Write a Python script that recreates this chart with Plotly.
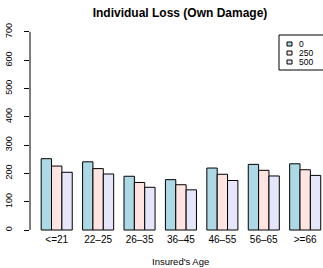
import plotly.graph_objects as go

ages = ["<=21", "22–25", "26–35", "36–45", "46–55", "56–65", ">=66"]
deductibles = ["0", "250", "500"]
loss_0 = [252, 241, 190, 178, 219, 232, 234]
loss_250 = [226, 217, 168, 160, 197, 211, 213]
loss_500 = [204, 198, 151, 142, 175, 191, 193]
colors = ["#ADD8E6", "#FFE4E1", "#E6E6FA"]
y_ticks = [0, 100, 200, 300, 400, 500, 600, 700]

series = [loss_0, loss_250, loss_500]
font = "Liberation Sans, Arial, Helvetica, sans-serif"

fig = go.Figure()
for name, vals, col in zip(deductibles, series, colors):
    fig.add_trace(go.Bar(x=ages, y=vals, name=name, marker=dict(color=col, line=dict(color="black", width=1)),
                         showlegend=False))

# y axis line from 0 to 700 only (R style)
fig.add_shape(type="line", xref="paper", yref="y", x0=0, x1=0, y0=y_ticks[0], y1=y_ticks[-1],
              line=dict(color="black", width=1))

# Manual legend (R-style compact box)
lx0, lx1, ly0, ly1 = 279, 330, 35, 70
W, H = 323, 268
ml, mr, mt, mb = 30, 0, 24, 36
pw, ph = W - ml - mr, H - mt - mb
def px(x):
    return (x - ml) / pw
def py(y):
    return 1 - (y - mt) / ph
fig.add_shape(type="rect", xref="paper", yref="paper", x0=px(lx0), x1=px(lx1), y0=py(ly1), y1=py(ly0),
              line=dict(color="black", width=1), fillcolor="white")
for i, (name, col) in enumerate(zip(deductibles, colors)):
    yc = 44 + 9 * i
    fig.add_shape(type="rect", xref="paper", yref="paper", x0=px(287), x1=px(292), y0=py(yc + 2), y1=py(yc - 2),
                  line=dict(color="black", width=1), fillcolor=col)
    fig.add_annotation(text=name, xref="paper", yref="paper", x=px(297), y=py(yc), xanchor="left",
                       yanchor="middle", showarrow=False, font=dict(family=font, size=8.5, color="black"))

fig.add_annotation(text="Insured's Age", xref="paper", yref="paper", x=px(180), y=py(261), xanchor="center",
                   yanchor="middle", showarrow=False, font=dict(family=font, size=9.5, color="black"))

fig.update_layout(
    width=W, height=H,
    margin=dict(l=ml, r=mr, t=mt, b=mb, pad=0),
    paper_bgcolor="white", plot_bgcolor="white",
    barmode="group", bargap=0.25, bargroupgap=0,
    title=dict(text="<b>Individual Loss (Own Damage)</b>", xref="paper", x=px(180), xanchor="center",
               yref="container", y=1 - 13 / H, yanchor="middle",
               font=dict(family=font, size=12, color="black")),
    xaxis=dict(type="category", range=[-0.645, 6.43], showgrid=False, zeroline=False, showline=False,
               ticks="", tickfont=dict(family=font, size=10, color="black")),
    yaxis=dict(range=[-7, 728], tickvals=y_ticks, ticks="outside", ticklen=5, tickcolor="black",
               showgrid=False, zeroline=False, showline=False, tickangle=-90, ticklabelstandoff=8,
               tickfont=dict(family=font, size=9, color="black")),
)

fig.write_html("out.html", config={"displayModeBar": False},
               post_script="document.body.style.margin='0';document.body.style.overflow='hidden';")
